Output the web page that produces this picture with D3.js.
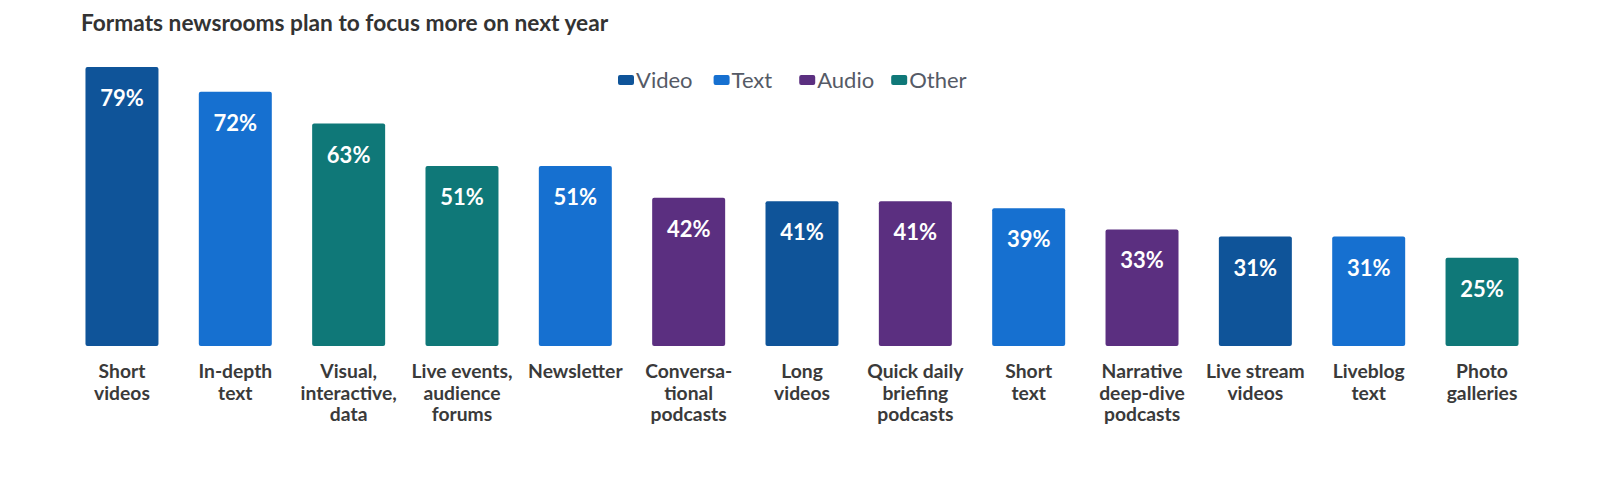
<!DOCTYPE html>
<html>
<head>
<meta charset="utf-8">
<script src="https://cdn.jsdelivr.net/npm/d3@7"></script>
<style>
  body { margin: 0; background: #fff; }
  svg { font-family: Lato, "Open Sans", sans-serif; }
</style>
</head>
<body>
<svg id="chart" width="1600" height="489"></svg>
<script>
// data
var categories = [
    "Short\nvideos", "In-depth\ntext", "Visual,\ninteractive,\ndata",
    "Live events,\naudience\nforums", "Newsletter", "Conversa-\ntional\npodcasts",
    "Long\nvideos", "Quick daily\nbriefing\npodcasts", "Short\ntext",
    "Narrative\ndeep-dive\npodcasts", "Live stream\nvideos", "Liveblog\ntext",
    "Photo\ngalleries"
];
var values = [79, 72, 63, 51, 51, 42, 41, 41, 39, 33, 31, 31, 25];
var types = ["Video", "Text", "Other", "Other", "Text", "Audio", "Video", "Audio",
    "Text", "Audio", "Video", "Text", "Other"];

var legendNames = ["Video", "Text", "Audio", "Other"];
var legendColors = ["#0f5499", "#1670d0", "#5b2f80", "#0f7878"];

var svg = d3.select("#chart");

var color = d3.scaleOrdinal().domain(legendNames).range(legendColors);

var x = d3.scaleBand()
    .domain(categories)
    .range([65.3, 1538.7])
    .paddingInner(0.356)
    .paddingOuter(0.178);

var y = d3.scaleLinear()
    .domain([0, 79])
    .range([346, 67]);

// title
svg.append("text")
    .attr("x", 81)
    .attr("y", 31)
    .attr("font-size", 22.7)
    .attr("font-weight", "bold")
    .attr("fill", "#333")
    .text("Formats newsrooms plan to focus more on next year");

// bars
var bars = svg.selectAll(".bar")
    .data(values);

bars.enter().append("rect")
    .attr("class", "bar")
    .attr("x", function(d, i) { return x(categories[i]); })
    .attr("y", function(d) { return y(d); })
    .attr("width", x.bandwidth())
    .attr("height", function(d) { return y(0) - y(d); })
    .attr("rx", 2)
    .attr("fill", function(d, i) { return color(types[i]); });

// value labels inside the bars
svg.selectAll(".val")
    .data(values)
    .enter().append("text")
    .attr("class", "val")
    .attr("x", function(d, i) { return x(categories[i]) + x.bandwidth() / 2; })
    .attr("y", function(d) { return y(d) + 39; })
    .attr("text-anchor", "middle")
    .attr("font-size", 22)
    .attr("font-weight", "bold")
    .attr("fill", "#fff")
    .text(function(d) { return d + "%"; });

// category labels, one tspan per line
var cat = svg.selectAll(".cat")
    .data(categories)
    .enter().append("text")
    .attr("class", "cat")
    .attr("text-anchor", "middle")
    .attr("font-size", 19.3)
    .attr("font-weight", "bold")
    .attr("fill", "#3a3a3a")
    .attr("transform", function(d) {
        return "translate(" + (x(d) + x.bandwidth() / 2) + ",378)";
    });

cat.selectAll("tspan")
    .data(function(d) { return d.split("\n"); })
    .enter().append("tspan")
    .attr("x", 0)
    .attr("y", function(d, i) { return i * 21.7; })
    .text(function(d) { return d; });

// legend
var legendGap = [21, 27, 17, 0];
var legend = svg.append("g").attr("transform", "translate(618,0)");
var lx = 0;
legendNames.forEach(function(name, i) {
    var g = legend.append("g").attr("transform", "translate(" + lx + ",0)");
    g.append("rect")
        .attr("x", 0)
        .attr("y", 75)
        .attr("width", 16)
        .attr("height", 10)
        .attr("rx", 2)
        .attr("fill", legendColors[i]);
    var t = g.append("text")
        .attr("x", 18)
        .attr("y", 88)
        .attr("font-size", 22)
        .attr("fill", "#555a66")
        .text(name);
    lx += 18 + t.node().getComputedTextLength() + legendGap[i];
});
</script>
</body>
</html>
